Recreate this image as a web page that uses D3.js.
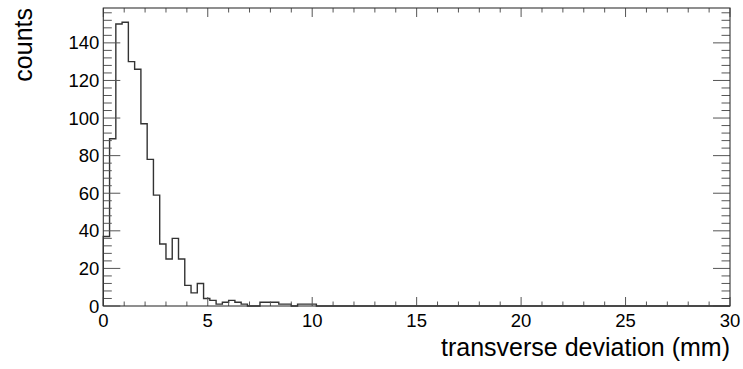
<!DOCTYPE html>
<html>
<head>
<meta charset="utf-8">
<script src="https://cdn.jsdelivr.net/npm/d3@7"></script>
<style>
  html, body { margin: 0; padding: 0; background: #fff; }
  svg { display: block; }
  text { font-family: "Liberation Sans", Arial, Helvetica, sans-serif; fill: #000; }
</style>
</head>
<body>
<svg id="chart" width="743" height="369"></svg>
<script>
// ---- data ----
const xRange = [0, 30];          // histogram axis range (mm)
const nBins = 100;               // bin width 0.3 mm
const counts = [
  37, 89, 150, 151, 130, 126, 97, 78, 59, 33,
  25, 36, 25, 11, 7, 12, 4, 3, 1, 2,
  3, 2, 1, 0, 0, 2, 2, 2, 1, 1,
  0, 1, 1, 1, 0, 0, 0, 0, 0, 0,
  0, 0, 0, 0, 0, 0, 0, 0, 0, 0,
  0, 0, 0, 0, 0, 0, 0, 0, 0, 0,
  0, 0, 0, 0, 0, 0, 0, 0, 0, 0,
  0, 0, 0, 0, 0, 0, 0, 0, 0, 0,
  0, 0, 0, 0, 0, 0, 0, 0, 0, 0,
  0, 0, 0, 0, 0, 0, 0, 0, 0, 0
];
const xMajorTicks = [0, 5, 10, 15, 20, 25, 30];
const yMajorTicks = [0, 20, 40, 60, 80, 100, 120, 140];
const xTitle = "transverse deviation (mm)";
const yTitle = "counts";

// ---- layout ----
const L = 103.3, R = 730, T = 8, B = 306;
const yMax = d3.max(counts) * 1.05;

const x = d3.scaleLinear().domain(xRange).range([L, R]);
const y = d3.scaleLinear().domain([0, yMax]).range([B, T]);

const svg = d3.select("#chart");
const g = svg.append("g");

// histogram step outline
const bw = (xRange[1] - xRange[0]) / nBins;
const pts = [[xRange[0], 0]];
counts.forEach((c, i) => {
  const x0 = xRange[0] + i * bw;
  pts.push([x0, c]);
  pts.push([x0 + bw, c]);
});
pts.push([xRange[1], 0]);

g.append("path")
  .attr("d", d3.line().x(d => x(d[0])).y(d => y(d[1]))(pts))
  .attr("fill", "none")
  .attr("stroke", "#333")
  .attr("stroke-width", 1.4);

// ticks
const tickColor = "#555";
const xMinor = d3.range(xRange[0], xRange[1] + 0.001, 1);
const yMinor = d3.range(0, yMax, 4);
const xMajLen = 9, xMinLen = 4.5, yMajLen = 17, yMinLen = 8.5;

function isMajor(v, arr) { return arr.some(a => Math.abs(a - v) < 1e-6); }

// bottom & top
xMinor.forEach(v => {
  const len = isMajor(v, xMajorTicks) ? xMajLen : xMinLen;
  g.append("line").attr("x1", x(v)).attr("x2", x(v)).attr("y1", B).attr("y2", B - len)
    .attr("stroke", tickColor).attr("stroke-width", 1);
  g.append("line").attr("x1", x(v)).attr("x2", x(v)).attr("y1", T).attr("y2", T + len)
    .attr("stroke", tickColor).attr("stroke-width", 1);
});
// left & right
yMinor.forEach(v => {
  const len = isMajor(v, yMajorTicks) ? yMajLen : yMinLen;
  g.append("line").attr("x1", L).attr("x2", L + len).attr("y1", y(v)).attr("y2", y(v))
    .attr("stroke", tickColor).attr("stroke-width", 1);
  g.append("line").attr("x1", R).attr("x2", R - len).attr("y1", y(v)).attr("y2", y(v))
    .attr("stroke", tickColor).attr("stroke-width", 1);
});

// frame
g.append("rect").attr("x", L).attr("y", T).attr("width", R - L).attr("height", B - T)
  .attr("fill", "none").attr("stroke", "#333").attr("stroke-width", 1.1);

// tick labels
const lblSize = 18.5;
xMajorTicks.forEach(v => {
  g.append("text").attr("x", x(v)).attr("y", 327)
    .attr("text-anchor", "middle").attr("font-size", lblSize).text(v);
});
yMajorTicks.forEach(v => {
  g.append("text").attr("x", 99.3).attr("y", y(v) + 6.6)
    .attr("text-anchor", "end").attr("font-size", lblSize).text(v);
});

// axis titles
g.append("text").attr("x", R).attr("y", 356)
  .attr("text-anchor", "end").attr("font-size", 25).text(xTitle);
g.append("text")
  .attr("transform", `translate(31.5, ${T}) rotate(-90)`)
  .attr("text-anchor", "end").attr("font-size", 25).text(yTitle);
</script>
</body>
</html>
